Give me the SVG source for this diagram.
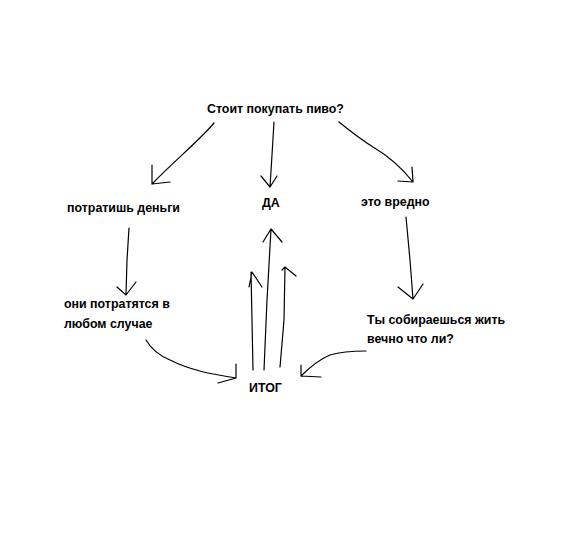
<svg xmlns="http://www.w3.org/2000/svg" width="570" height="558" viewBox="0 0 570 558">
<style>
text{font-family:"Liberation Sans",Arial,sans-serif;font-weight:bold;font-size:12.4px;fill:#000}
.c path{fill:none;stroke:#000;stroke-width:1.2;stroke-linecap:round;stroke-linejoin:round}
</style>
<rect width="570" height="558" fill="#fff"/>
<g id="q"><text x="207" y="113">Стоит покупать пиво?</text></g>
<g id="spend"><text x="67" y="212">потратишь деньги</text></g>
<g id="yes"><text x="262" y="207">ДА</text></g>
<g id="harm"><text x="361" y="206">это вредно</text></g>
<g id="anyway"><text x="64" y="308">они потратятся в</text><text x="64" y="328">любом случае</text></g>
<g id="forever"><text x="367" y="324">Ты собираешься жить</text><text x="367" y="343">вечно что ли?</text></g>
<g id="total"><text x="249" y="392">ИТОГ</text></g>
<g class="c">
<path d="M214,123 C200,140 175,160 152,184 M152,165 L152,184 L170,182"/>
<path d="M274,122 L272,155 L270,187 M261,176 L270,187 L277,176"/>
<path d="M339,122 C355,135 365,142 373,147 C390,157 402,168 413,182 M412,167 L413,182 L398,181"/>
<path d="M129,228 L127,260 L126,295 M117,287 L126,295 L136,282"/>
<path d="M146,340 C152,350 160,356 170,360 C190,370 210,374 236,378 M236,364 L236,378 L218,383"/>
<path d="M253,370 L252,320 L251,272 M249,287 L252,272 L262,287"/>
<path d="M264,370 L267,300 L271,229 M263,242 L271,229 L282,242"/>
<path d="M280,367 L284,320 L285,267 M282,270 L285,267 L296,276"/>
<path d="M406,217 L410,260 L413,299 M398,287 L413,299 L423,284"/>
<path d="M366,351 C350,351 340,352 330,355 C318,360 310,367 301,376 M301,365 L301,376 L321,377"/>
</g>
</svg>
